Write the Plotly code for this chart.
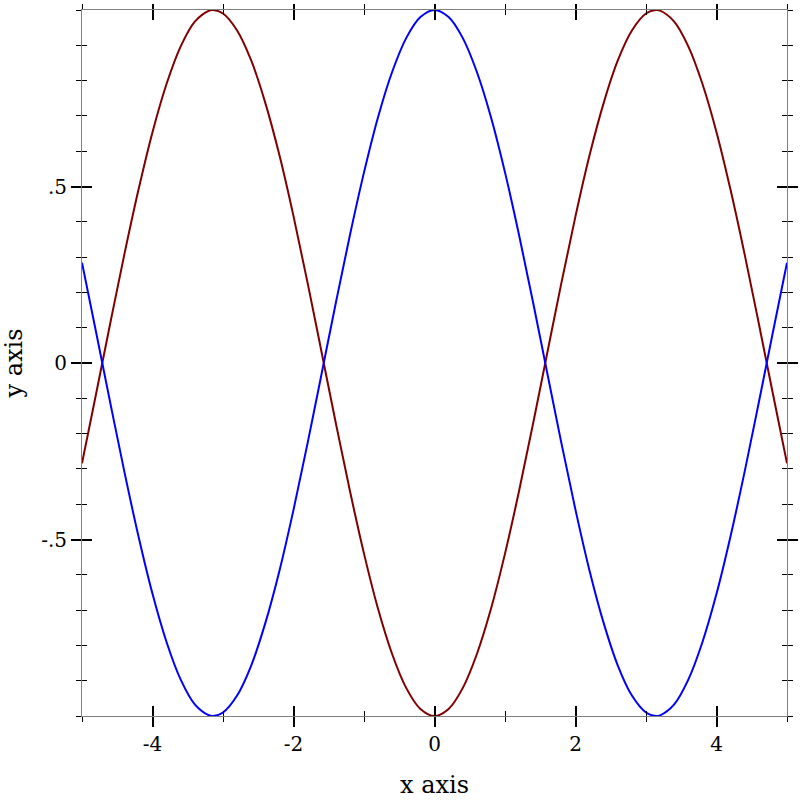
import plotly.graph_objects as go

# sample positions and curve values
x_vals = [-5.0, -4.8, -4.6, -4.4, -4.2, -4.0, -3.8, -3.6, -3.4, -3.2, -3.14, -3.0,
          -2.8, -2.6, -2.4, -2.2, -2.0, -1.8, -1.6, -1.4, -1.2, -1.0,
          -0.8, -0.6, -0.4, -0.2, 0.0, 0.2, 0.4, 0.6, 0.8, 1.0,
          1.2, 1.4, 1.6, 1.8, 2.0, 2.2, 2.4, 2.6, 2.8, 3.0,
          3.14, 3.2, 3.4, 3.6, 3.8, 4.0, 4.2, 4.4, 4.6, 4.8, 5.0]
blue_vals = [0.284, 0.087, -0.112, -0.307, -0.490, -0.654, -0.791, -0.897, -0.967, -0.998, -1.000, -0.990,
             -0.942, -0.857, -0.737, -0.589, -0.416, -0.227, -0.029, 0.170, 0.362, 0.540,
             0.697, 0.825, 0.921, 0.980, 1.000, 0.980, 0.921, 0.825, 0.697, 0.540,
             0.362, 0.170, -0.029, -0.227, -0.416, -0.589, -0.737, -0.857, -0.942, -0.990,
             -1.000, -0.998, -0.967, -0.897, -0.791, -0.654, -0.490, -0.307, -0.112, 0.087, 0.284]
red_vals = [-0.284, -0.087, 0.112, 0.307, 0.490, 0.654, 0.791, 0.897, 0.967, 0.998, 1.000, 0.990,
            0.942, 0.857, 0.737, 0.589, 0.416, 0.227, 0.029, -0.170, -0.362, -0.540,
            -0.697, -0.825, -0.921, -0.980, -1.000, -0.980, -0.921, -0.825, -0.697, -0.540,
            -0.362, -0.170, 0.029, 0.227, 0.416, 0.589, 0.737, 0.857, 0.942, 0.990,
            1.000, 0.998, 0.967, 0.897, 0.791, 0.654, 0.490, 0.307, 0.112, -0.087, -0.284]

x_ticks = [-4, -2, 0, 2, 4]
x_ticktext = ["-4", "-2", "0", "2", "4"]
y_ticks = [-0.5, 0, 0.5]
y_ticktext = ["-.5", "0", ".5"]

FONT = "DejaVu Serif"
XR = [-5, 5]
YR = [-1, 1]

fig = go.Figure()
fig.add_trace(go.Scatter(x=x_vals, y=red_vals, mode="lines", line=dict(color="#800000", width=2, shape="spline"),
                         showlegend=False, hoverinfo="skip"))
fig.add_trace(go.Scatter(x=x_vals, y=blue_vals, mode="lines", line=dict(color="#0000ff", width=2, shape="spline"),
                         showlegend=False, hoverinfo="skip"))
# dummy traces to activate the tick-only axes
fig.add_trace(go.Scatter(x=[None], y=[None], xaxis="x2", yaxis="y2", showlegend=False, hoverinfo="skip"))
fig.add_trace(go.Scatter(x=[None], y=[None], xaxis="x3", yaxis="y2", showlegend=False, hoverinfo="skip"))

common = dict(showgrid=False, zeroline=False, tickcolor="black", fixedrange=True, automargin=False)

fig.update_layout(
    width=800, height=800,
    margin=dict(l=82, r=13, t=10, b=84),
    paper_bgcolor="white", plot_bgcolor="white",
    font=dict(family=FONT, size=20, color="black"),
    xaxis=dict(range=XR, tickmode="array", tickvals=x_ticks, ticktext=x_ticktext,
               ticks="outside", ticklen=10, tickwidth=2, showline=True, linecolor="#808080", linewidth=1,
               minor=dict(ticks="outside", ticklen=5, tickwidth=1, tickcolor="black", dtick=1, tick0=0),
               title=dict(text="x axis", standoff=21), **common),
    yaxis=dict(range=YR, tickmode="array", tickvals=y_ticks, ticktext=y_ticktext,
               ticks="outside", ticklen=10, tickwidth=2, showline=True, linecolor="#808080", linewidth=1,
               mirror="ticks",
               minor=dict(ticks="outside", ticklen=5, tickwidth=1, tickcolor="black", dtick=0.1, tick0=0),
               title=dict(text="y axis", standoff=14), **common),
    xaxis2=dict(range=XR, overlaying="x", side="bottom", tickmode="array", tickvals=x_ticks,
                showticklabels=False, ticks="inside", ticklen=10, tickwidth=2, mirror="ticks",
                showline=False,
                minor=dict(ticks="inside", ticklen=5, tickwidth=1, tickcolor="black", dtick=1, tick0=0),
                **common),
    yaxis2=dict(range=YR, overlaying="y", side="left", tickmode="array", tickvals=y_ticks,
                showticklabels=False, ticks="inside", ticklen=10, tickwidth=2, mirror="ticks",
                showline=False,
                minor=dict(ticks="inside", ticklen=5, tickwidth=1, tickcolor="black", dtick=0.1, tick0=0),
                **common),
    xaxis3=dict(range=XR, overlaying="x", side="top", tickmode="array", tickvals=x_ticks,
                showticklabels=False, ticks="outside", ticklen=5, tickwidth=2, showline=True,
                linecolor="#808080", linewidth=1,
                minor=dict(ticks="outside", ticklen=5, tickwidth=1, tickcolor="black", dtick=1, tick0=0),
                **common),
)

fig.write_html("out.html", config={"displayModeBar": False},
               post_script="document.body.style.margin='0';document.body.style.padding='0';")
